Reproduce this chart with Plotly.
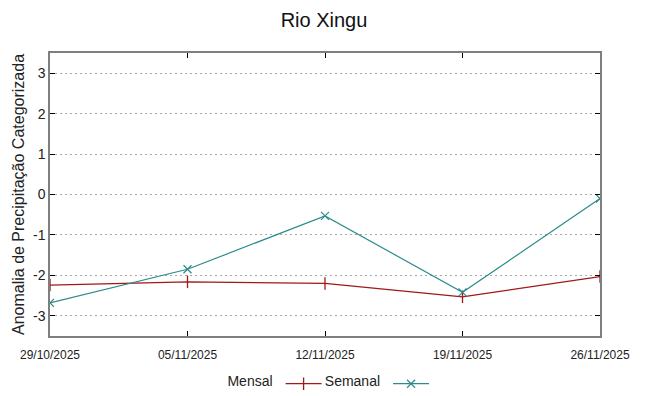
import plotly.graph_objects as go

dates = ["2025-10-29", "2025-11-05", "2025-11-12", "2025-11-19", "2025-11-26"]
tick_labels = ["29/10/2025", "05/11/2025", "12/11/2025", "19/11/2025", "26/11/2025"]
mensal = [-2.24, -2.16, -2.20, -2.53, -2.03]
semanal = [-2.68, -1.85, -0.53, -2.42, -0.10]
y_ticks = [-3, -2, -1, 0, 1, 2, 3]
y_labels = ["-3", "-2", "-1", "0", "1", "2", "3"]

red = "#a01818"
teal = "#2e8b8b"

fig = go.Figure()
fig.add_trace(go.Scatter(
    x=dates, y=mensal, mode="lines+markers", name="",
    line=dict(color=red, width=1.2),
    marker=dict(symbol="line-ns", size=9, line=dict(color=red, width=1.3)),
    legend="legend",
))
fig.add_trace(go.Scatter(
    x=dates, y=semanal, mode="lines+markers", name="",
    line=dict(color=teal, width=1.2),
    marker=dict(symbol="x-thin", size=8, line=dict(color=teal, width=1.2)),
    legend="legend2",
))

axis_common = dict(
    showline=True, linecolor="#7f7f7f", linewidth=1.5, mirror="ticks",
    ticks="inside", ticklen=5, tickcolor="#000000", tickwidth=1,
)

fig.update_layout(
    width=648, height=396,
    margin=dict(l=50, r=48, t=53, b=60, autoexpand=False),
    paper_bgcolor="white", plot_bgcolor="white",
    font=dict(family="Liberation Sans, Arial, sans-serif", color="#222222"),
    title=dict(text="Rio Xingu", x=0.5, xanchor="center", y=0.95, yanchor="middle",
               font=dict(size=20, color="#111111")),
    xaxis=dict(
        type="date", range=[dates[0], dates[-1]],
        tickvals=dates, ticktext=tick_labels,
        showgrid=False, zeroline=False, ticklabelstandoff=7,
        tickfont=dict(size=12, family="Liberation Sans Narrow, Liberation Sans, Arial"),
        **axis_common,
    ),
    yaxis=dict(
        range=[-3.5, 3.5], tickvals=y_ticks, ticktext=y_labels,
        showgrid=True, gridcolor="#a8a8a8", griddash="2px,3px", gridwidth=1,
        zeroline=False,
        tickfont=dict(size=14),
        title=dict(text="Anomalia de Precipitação Categorizada", font=dict(size=16), standoff=4),
        **axis_common,
    ),
    showlegend=True,
    legend=dict(
        title=dict(text="Mensal", side="left", font=dict(size=14)),
        orientation="h", x=0.319, xanchor="left", yref="container", y=0.03, yanchor="middle",
        font=dict(size=14), itemwidth=36, bgcolor="rgba(0,0,0,0)",
    ),
    legend2=dict(
        title=dict(text="Semanal", side="left", font=dict(size=14)),
        orientation="h", x=0.496, xanchor="left", yref="container", y=0.03, yanchor="middle",
        font=dict(size=14), itemwidth=36, bgcolor="rgba(0,0,0,0)",
    ),
)

fig.write_html("out.html")
